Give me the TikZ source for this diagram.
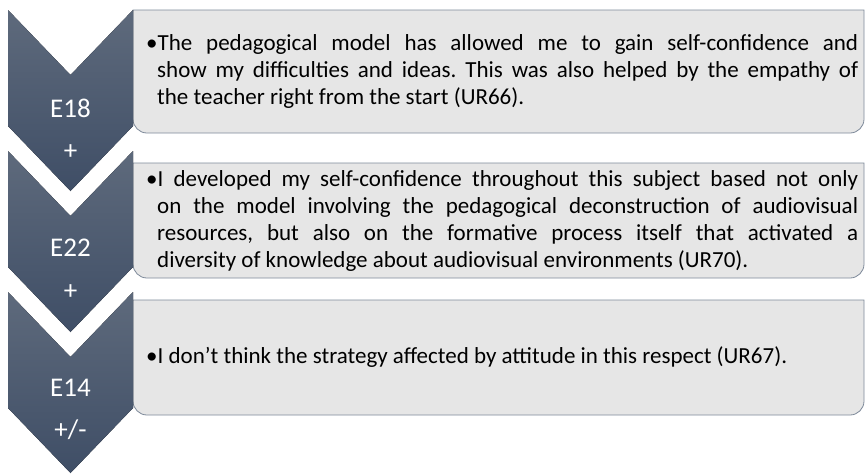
\documentclass[tikz,border=0pt]{standalone}
\usepackage{fontspec}
\setmainfont{Carlito}
\frenchspacing
\definecolor{chevtop}{HTML}{5E6A7C}
\definecolor{chevbot}{HTML}{3F4E66}
\definecolor{boxfill}{HTML}{E6E6E6}
\definecolor{boxline}{HTML}{7E8A9A}

\begin{document}
\begin{tikzpicture}[x=1pt, y=-1pt,
    chev/.style={top color=chevtop, bottom color=chevbot, draw=none},
    tag/.style={text=white, font=\fontsize{27}{29}\selectfont, inner sep=0pt},
    quote/.style={anchor=west, text width=712pt, align=justify, inner sep=0pt,
                  font=\fontsize{23}{27}\selectfont},
    frame/.style={fill=boxfill, draw=boxline, line width=0.8pt}]
    \useasboundingbox (0,0) rectangle (866,474);

    % Boxes (square on the left, rounded on the right)
    \draw[frame] (133,10) -- (864,10) [rounded corners=14pt] -- (864,133) -- (133,133) [sharp corners] -- cycle;
    \draw[frame] (133,163) -- (864,163) [rounded corners=14pt] -- (864,278) -- (133,278) [sharp corners] -- cycle;
    \draw[frame] (133,300) -- (864,300) [rounded corners=14pt] -- (864,415) -- (133,415) [sharp corners] -- cycle;

    % Chevrons
    \fill[chev] (8,10) -- (70.5,75) -- (133,10) -- (133,126) -- (70.5,191) -- (8,126) -- cycle;
    \fill[chev] (8,151) -- (70.5,216) -- (133,151) -- (133,267) -- (70.5,332) -- (8,267) -- cycle;
    \fill[chev] (8,292) -- (70.5,357) -- (133,292) -- (133,408) -- (70.5,473) -- (8,408) -- cycle;

    % Student codes and ratings
    \node[tag] (e18) at (70.5,108) {E18};
    \node[tag] (r18) at (70.5,152) {+};
    \node[tag] (e22) at (70.5,248) {E22};
    \node[tag] (r22) at (70.5,292) {+};
    \node[tag] (e14) at (70.5,388) {E14};
    \node[tag] (r14) at (70.5,430) {+/-};

    % Quotes
    \node[quote] (q18) at (146,71.5) {\hangindent=11pt \hangafter=1 •The pedagogical model has allowed me to gain self-confidence and\linebreak
        show my difficulties and ideas. This was also helped by the empathy of\linebreak
        the teacher right from the start (UR66).\par};
    \node[quote] (q22) at (146,220.5) {\hangindent=11pt \hangafter=1 •I developed my self-confidence throughout this subject based not only\linebreak
        on the model involving the pedagogical deconstruction of audiovisual\linebreak
        resources, but also on the formative process itself that activated a\linebreak
        diversity of knowledge about audiovisual environments (UR70).\par};
    \node[quote] (q14) at (146,357.5) {•I don’t think the strategy affected by attitude in this respect (UR67).};
\end{tikzpicture}
\end{document}
